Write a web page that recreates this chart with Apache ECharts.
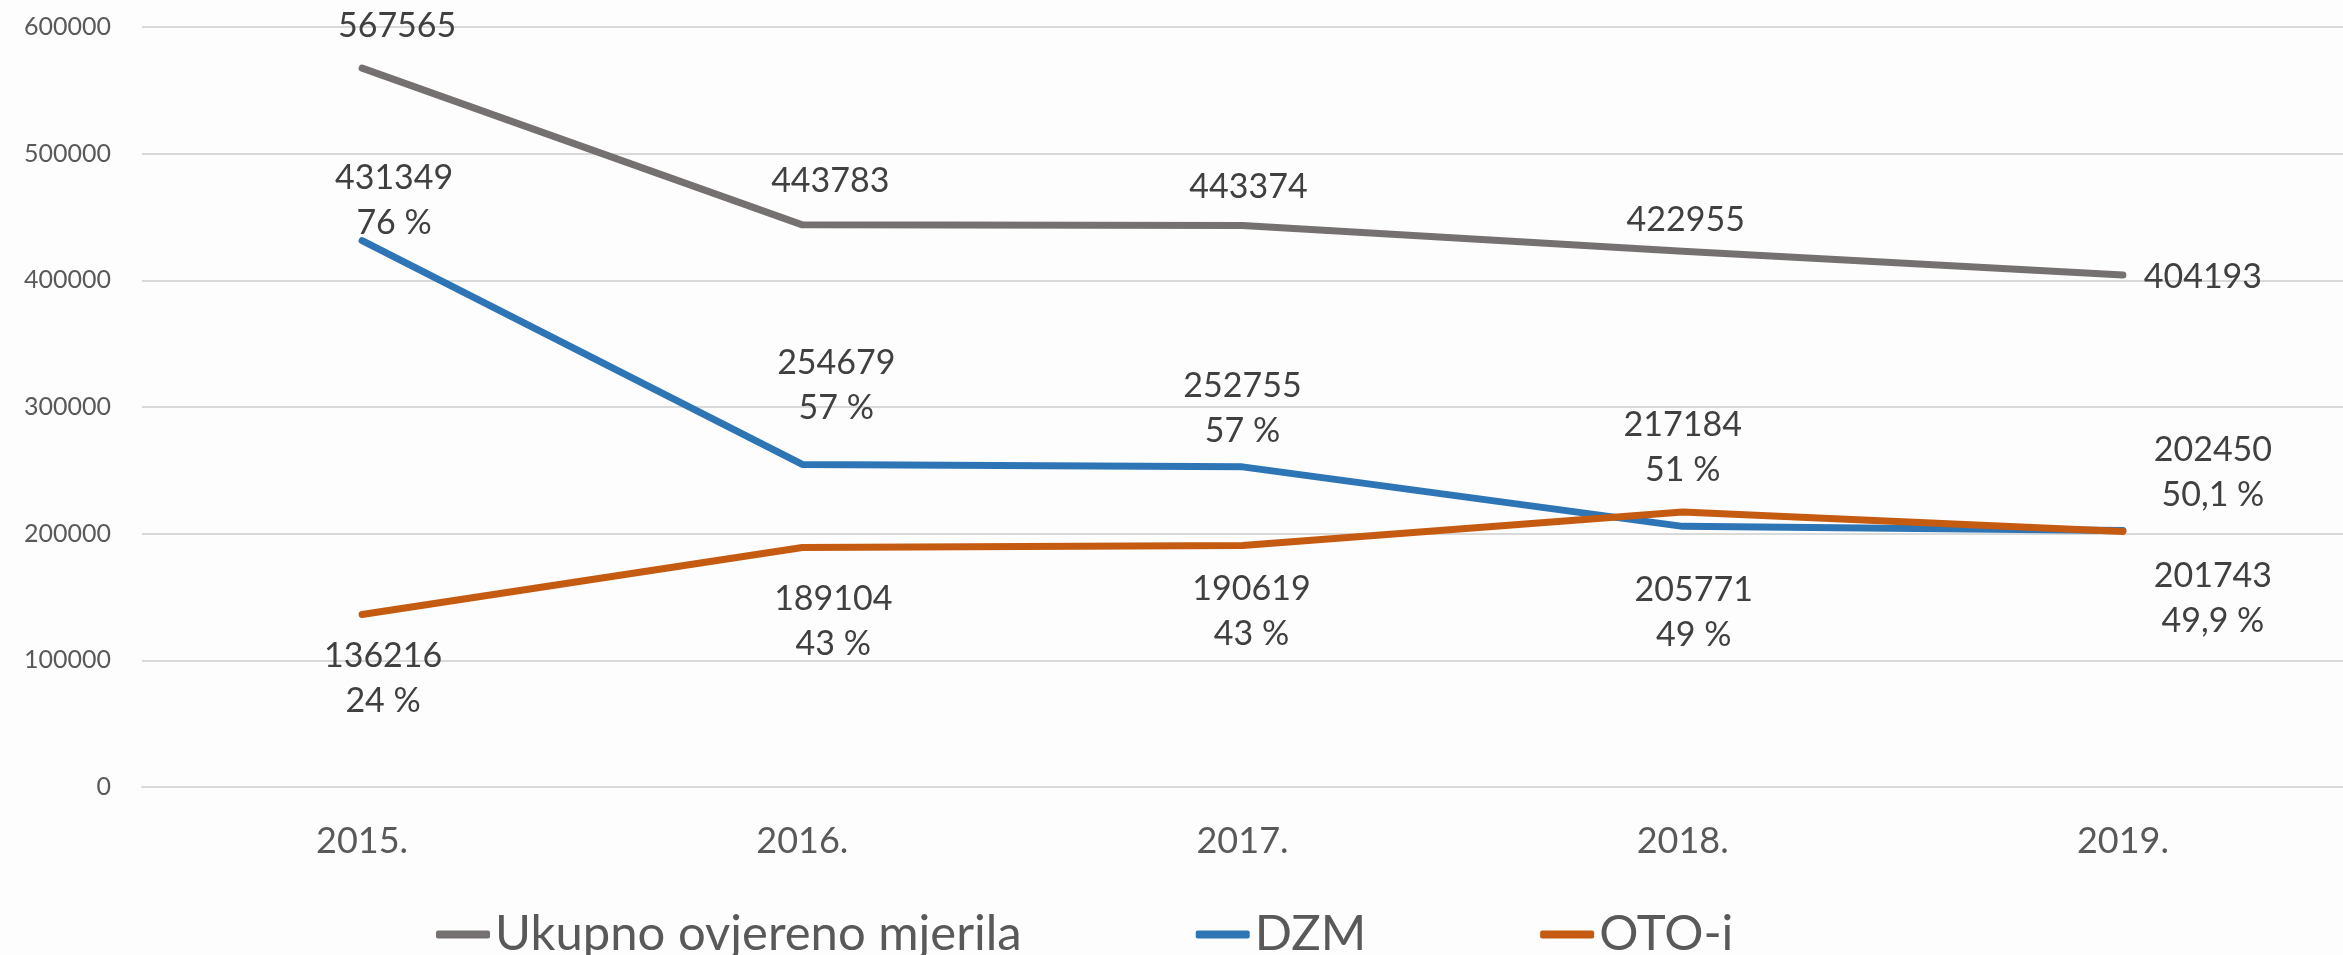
<!DOCTYPE html>
<html>
<head>
<meta charset="utf-8">
<script src="https://cdn.jsdelivr.net/npm/echarts@6/dist/echarts.min.js"></script>
<style>
  html, body { margin: 0; padding: 0; background: #fdfdfd; }
  #chart { width: 2343px; height: 955px; }
</style>
</head>
<body>
<div id="chart"></div>
<script>
// ---- data ----
const years = ['2015.', '2016.', '2017.', '2018.', '2019.'];
const seriesNames = ['Ukupno ovjereno mjerila', 'DZM', 'OTO-i'];
const ukupno = [567565, 443783, 443374, 422955, 404193];
const dzm = [431349, 254679, 252755, 205771, 202450];
const oto = [136216, 189104, 190619, 217184, 201743];
const dzmPct = ['76 %', '57 %', '57 %', '49 %', '50,1 %'];
const otoPct = ['24 %', '43 %', '43 %', '51 %', '49,9 %'];
const yTicks = { min: 0, max: 600000, interval: 100000 };

// ---- label layout (offsets of label centre from the point, px) ----
const ukupnoLabelOffsets = [[35, -42], [28, -44], [6, -38], [3, -31], [80, 2]];
const dzmLabelOffsets = [[32, -40], [34, -79], [0, -58], [11, 86], [90, -58]];
const otoLabelOffsets = [[21, 64], [31, 74], [9, 66], [0, -64], [90, 67]];

const FONT = 'Lato, "Open Sans", sans-serif';
const colors = ['#767171', '#2E75B6', '#C55A11'];

function makeSeries(name, values, offsets, pcts, color, z) {
  return {
    name: name,
    type: 'line',
    z: z,
    data: values.slice(),
    symbol: 'circle',
    symbolSize: 1,
    showSymbol: true,
    itemStyle: { color: color },
    lineStyle: { color: color, width: 7, cap: 'round', join: 'round' },
    emphasis: { disabled: true },
    animation: false,
    label: {
      show: true,
      position: 'inside',
      align: 'center',
      verticalAlign: 'middle',
      fontFamily: FONT,
      fontSize: 34,
      lineHeight: 45,
      color: '#404040',
      formatter: function (p) {
        return pcts ? p.value + '\n' + pcts[p.dataIndex] : String(p.value);
      }
    },
    labelLayout: function (params) {
      const o = offsets[params.dataIndex] || [0, 0];
      return { dx: o[0], dy: o[1], hideOverlap: false };
    }
  };
}

const chart = echarts.init(document.getElementById('chart'), null, { renderer: 'canvas' });
chart.setOption({
  backgroundColor: '#fdfdfd',
  animation: false,
  textStyle: { fontFamily: FONT },
  grid: { left: 142, top: 27, width: 2217, height: 760, containLabel: false },
  legend: {
    data: seriesNames,
    left: 431,
    top: 905,
    icon: 'roundRect',
    itemWidth: 54,
    itemHeight: 8,
    itemGap: 174,
    textStyle: { fontFamily: FONT, fontSize: 49, color: '#595959' },
    selectedMode: false
  },
  xAxis: {
    type: 'category',
    data: years,
    boundaryGap: true,
    axisLine: { show: true, lineStyle: { color: '#d9d9d9', width: 2 } },
    axisTick: { show: false },
    axisLabel: { fontFamily: FONT, fontSize: 36, color: '#595959', margin: 36 },
    splitLine: { show: false }
  },
  yAxis: {
    type: 'value',
    min: yTicks.min,
    max: yTicks.max,
    interval: yTicks.interval,
    axisLine: { show: false },
    axisTick: { show: false },
    axisLabel: {
      fontFamily: FONT, fontSize: 25, color: '#595959', margin: 31,
      formatter: function (v) { return String(v); }
    },
    splitLine: { show: true, lineStyle: { color: '#d9d9d9', width: 2 } }
  },
  series: [
    makeSeries(seriesNames[0], ukupno, ukupnoLabelOffsets, null, colors[0], 3),
    makeSeries(seriesNames[1], dzm, dzmLabelOffsets, dzmPct, colors[1], 4),
    makeSeries(seriesNames[2], oto, otoLabelOffsets, otoPct, colors[2], 5)
  ]
});
</script>
</body>
</html>
